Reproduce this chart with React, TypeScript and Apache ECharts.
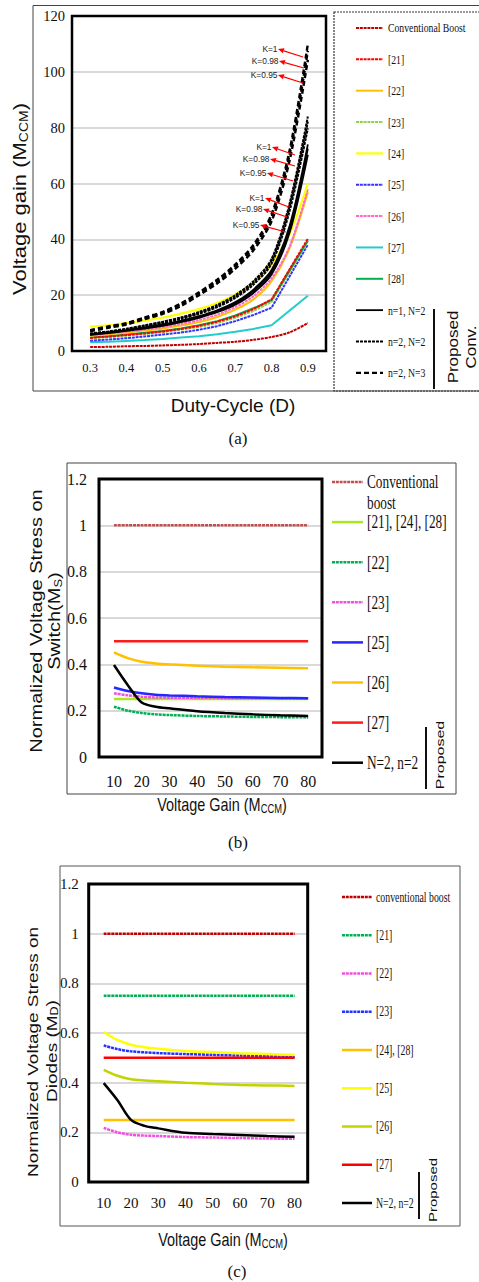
import React, { useEffect, useRef } from "react";
import * as echarts from "echarts";

// ---------------- Panel (a): Voltage gain vs duty cycle ----------------
const dutyTicks = [0.3, 0.4, 0.5, 0.6, 0.7, 0.8, 0.9];
const dutyFull = [0.3, 0.35, 0.4, 0.45, 0.5, 0.55, 0.6, 0.65, 0.7, 0.75, 0.8, 0.85, 0.9];
const dutyKink = [0.3, 0.35, 0.4, 0.45, 0.5, 0.55, 0.6, 0.65, 0.7, 0.75, 0.8, 0.9];

const convBoostGain = [1.4, 1.5, 1.7, 1.8, 2.0, 2.2, 2.5, 2.9, 3.3, 4.0, 5.0, 6.7, 10.0];
const ref21Gain = [4.7, 5.2, 5.7, 6.3, 7.0, 7.9, 9.0, 10.5, 12.4, 15.0, 18.5, 40.2];
const ref22Gain = [5.5, 6.0, 6.6, 7.3, 8.1, 9.1, 10.4, 12.2, 14.8, 18.5, 25.0, 37.0, 57.0];
const ref23Gain = [4.5, 5.0, 5.5, 6.1, 6.8, 7.6, 8.6, 10.0, 11.9, 14.3, 17.6, 39.3];
const ref24Gain = [8.7, 9.2, 10.0, 10.9, 12.0, 13.4, 15.0, 17.2, 20.2, 24.5, 31.0, 42.0, 60.0];
const ref25Gain = [3.7, 4.1, 4.6, 5.2, 5.9, 6.6, 7.6, 8.9, 10.7, 12.9, 15.5, 38.1];
const ref26Gain = [5.8, 6.3, 7.0, 7.7, 8.6, 9.7, 11.1, 13.0, 15.7, 19.6, 26.0, 37.5, 58.0];
const ref27Gain = [3.1, 3.3, 3.6, 3.9, 4.3, 4.8, 5.3, 6.0, 6.9, 7.9, 9.2, 19.8];
const ref28Gain = [4.8, 5.3, 5.9, 6.5, 7.2, 8.1, 9.2, 10.7, 12.7, 15.3, 18.2, 39.6];

// Proposed n=1, N=2 (K = 1, 0.98, 0.95)
const n1N2K100 = [6.0, 6.7, 7.5, 8.4, 9.5, 10.8, 12.5, 14.6, 17.5, 22.0, 29.0, 45.0, 74.0];
const n1N2K098 = [5.9, 6.6, 7.4, 8.3, 9.3, 10.6, 12.2, 14.3, 17.1, 21.5, 28.3, 44.0, 72.5];
const n1N2K095 = [5.8, 6.4, 7.2, 8.0, 9.0, 10.3, 11.9, 13.9, 16.6, 20.8, 27.4, 42.5, 70.3];
// Proposed n=2, N=2
const n2N2K100 = [6.3, 7.0, 8.0, 9.2, 10.5, 12.0, 14.0, 16.5, 20.0, 25.0, 33.0, 53.0, 84.0];
const n2N2K098 = [6.2, 6.9, 7.8, 9.0, 10.3, 11.8, 13.7, 16.2, 19.6, 24.5, 32.3, 52.0, 82.2];
const n2N2K095 = [6.0, 6.7, 7.6, 8.7, 10.0, 11.4, 13.3, 15.7, 19.0, 23.8, 31.3, 50.3, 79.8];
// Proposed n=2, N=3
const n2N3K100 = [7.5, 8.8, 10.0, 12.0, 14.0, 17.0, 21.0, 25.5, 31.0, 38.0, 49.0, 72.0, 110.0];
const n2N3K098 = [7.3, 8.6, 9.8, 11.8, 13.7, 16.7, 20.6, 25.0, 30.4, 37.2, 48.0, 70.5, 107.5];
const n2N3K095 = [7.1, 8.3, 9.5, 11.4, 13.3, 16.1, 20.0, 24.2, 29.5, 36.1, 46.5, 68.4, 104.3];

const legendNamesA = [
  "Conventional Boost", "[21]", "[22]", "[23]", "[24]", "[25]", "[26]", "[27]", "[28]",
  "n=1, N=2", "n=2, N=2", "n=2, N=3",
];
const kLabels = ["K=1", "K=0.98", "K=0.95", "K=1", "K=0.98", "K=0.95", "K=1", "K=0.98", "K=0.95"];

// ---------------- Panels (b), (c): stress vs voltage gain ----------------
const gainPoints = [10, 15, 20, 25, 30, 40, 50, 60, 70, 80];
const gainTicks = [10, 20, 30, 40, 50, 60, 70, 80];

// (b) switch stress
const swConv = [1, 1, 1, 1, 1, 1, 1, 1, 1, 1];
const sw21_24_28 = [0.25, 0.25, 0.25, 0.25, 0.25, 0.25, 0.25, 0.25, 0.25, 0.25];
const sw22 = [0.217, 0.2, 0.19, 0.184, 0.181, 0.177, 0.175, 0.173, 0.172, 0.171];
const sw23 = [0.275, 0.266, 0.26, 0.257, 0.256, 0.255, 0.254, 0.254, 0.253, 0.253];
const sw25 = [0.3, 0.285, 0.275, 0.269, 0.266, 0.262, 0.259, 0.257, 0.255, 0.254];
const sw26 = [0.452, 0.427, 0.411, 0.404, 0.4, 0.394, 0.39, 0.387, 0.385, 0.383];
const sw27 = [0.5, 0.5, 0.5, 0.5, 0.5, 0.5, 0.5, 0.5, 0.5, 0.5];
const swProposed = [0.397, 0.31, 0.235, 0.217, 0.21, 0.198, 0.19, 0.184, 0.18, 0.177];
const legendNamesB = ["Conventional\nboost", "[21], [24], [28]", "[22]", "[23]", "[25]", "[26]", "[27]", "N=2, n=2"];

// (c) diode stress
const dConv = [1, 1, 1, 1, 1, 1, 1, 1, 1, 1];
const d21 = [0.75, 0.75, 0.75, 0.75, 0.75, 0.75, 0.75, 0.75, 0.75, 0.75];
const d22 = [0.218, 0.2, 0.19, 0.187, 0.185, 0.181, 0.179, 0.177, 0.175, 0.174];
const d23 = [0.55, 0.535, 0.526, 0.522, 0.519, 0.515, 0.512, 0.509, 0.506, 0.503];
const d24_28 = [0.25, 0.25, 0.25, 0.25, 0.25, 0.25, 0.25, 0.25, 0.25, 0.25];
const d25 = [0.604, 0.572, 0.553, 0.543, 0.537, 0.528, 0.523, 0.518, 0.515, 0.512];
const d26 = [0.452, 0.428, 0.414, 0.409, 0.406, 0.4, 0.395, 0.391, 0.389, 0.387];
const d27 = [0.5, 0.5, 0.5, 0.5, 0.5, 0.5, 0.5, 0.5, 0.5, 0.5];
const dProposed = [0.398, 0.33, 0.25, 0.226, 0.216, 0.198, 0.193, 0.189, 0.185, 0.182];
const legendNamesC = ["conventional boost", "[21]", "[22]", "[23]", "[24], [28]", "[25]", "[26]", "[27]", "N=2, n=2"];

// ---------------- styles & layout ----------------
const SERIF = "'Liberation Serif', 'Times New Roman', serif";
const SANS = "'Liberation Sans', Arial, sans-serif";
const DOT: any = [3, 0.8];

const styleA = [
  { color: "#C00000", width: 2, dash: DOT },
  { color: "#FF0000", width: 2, dash: DOT },
  { color: "#FFC000", width: 2, dash: "solid" },
  { color: "#92D050", width: 2, dash: DOT },
  { color: "#FFFF00", width: 2.2, dash: "solid" },
  { color: "#3333FF", width: 2, dash: DOT },
  { color: "#FF66CC", width: 2, dash: DOT },
  { color: "#22CCCC", width: 2, dash: "solid" },
  { color: "#00B050", width: 2, dash: "solid" },
  { color: "#000000", width: 1.8, dash: "solid" },
  { color: "#000000", width: 2, dash: [3, 1] },
  { color: "#000000", width: 2.4, dash: [5, 3] },
];
const styleB = [
  { color: "#C0504D", width: 2.5, dash: DOT },
  { color: "#A9E81C", width: 2.5, dash: "solid" },
  { color: "#00B050", width: 2.5, dash: DOT },
  { color: "#F050E0", width: 2.5, dash: DOT },
  { color: "#2626FF", width: 2.5, dash: "solid" },
  { color: "#FFC000", width: 2.5, dash: "solid" },
  { color: "#FF1A1A", width: 2.5, dash: "solid" },
  { color: "#000000", width: 2.5, dash: "solid" },
];
const styleC = [
  { color: "#C00000", width: 2.5, dash: DOT },
  { color: "#00B050", width: 2.5, dash: DOT },
  { color: "#F050E0", width: 2.5, dash: DOT },
  { color: "#2233FF", width: 2.5, dash: DOT },
  { color: "#FFC000", width: 2.5, dash: "solid" },
  { color: "#FFFF00", width: 2.5, dash: "solid" },
  { color: "#C2D400", width: 2.5, dash: "solid" },
  { color: "#FF0000", width: 2.5, dash: "solid" },
  { color: "#000000", width: 2.5, dash: "solid" },
];

const GA = { left: 72, top: 16, width: 254, height: 335 };
const GB = { left: 99, top: 479, width: 223, height: 278 };
const GC = { left: 88.7, top: 884, width: 219, height: 298 };

function lineSeries(name: string, xs: number[], ys: number[], st: any, axis: number, smooth: any, z = 2) {
  return {
    type: "line",
    name,
    xAxisIndex: axis,
    yAxisIndex: axis,
    data: xs.map((x, i) => [x, ys[i]]),
    showSymbol: false,
    symbol: "none",
    smooth,
    silent: true,
    z,
    lineStyle: { color: st.color, width: st.width, type: st.dash },
    itemStyle: { color: st.color },
  };
}

function txt(text: string, x: number, y: number, o: any = {}) {
  return {
    type: "text",
    x,
    y,
    rotation: o.rot || 0,
    scaleX: o.sx || 1,
    scaleY: o.sy || 1,
    z: 60,
    silent: true,
    style: {
      text,
      fill: o.color || "#111",
      fontSize: o.size || 14,
      fontFamily: o.family || SERIF,
      align: o.align || "left",
      textAlign: o.align || "left",
      verticalAlign: o.va || "middle",
      textVerticalAlign: o.va || "middle",
      lineHeight: o.lh,
      rich: o.rich,
    },
  };
}

function rect(x: number, y: number, w: number, h: number, stroke: string, lw: number, dash?: any) {
  return {
    type: "rect",
    z: 55,
    silent: true,
    shape: { x, y, width: w, height: h },
    style: { fill: "none", stroke, lineWidth: lw, lineDash: dash },
  };
}

function seg(x1: number, y1: number, x2: number, y2: number, stroke: string, lw: number, dash?: any) {
  return {
    type: "line",
    z: 56,
    silent: true,
    shape: { x1, y1, x2, y2 },
    style: { stroke, lineWidth: lw, lineDash: dash },
  };
}

function legendBlock(names: string[], styles: any[], x1: number, x2: number, tx: number, y0: number, step: number, font: any) {
  const els: any[] = [];
  names.forEach((n, i) => {
    const y = y0 + i * step;
    const st = styles[i];
    els.push(seg(x1, y, x2, y, st.color, st.width, st.dash === "solid" ? null : st.dash));
    const multi = n.indexOf("\n") >= 0;
    els.push(
      txt(n, tx, multi ? y - font.lh / 2 : y, {
        size: font.size,
        sx: font.sx,
        family: SERIF,
        va: multi ? "top" : "middle",
        lh: font.lh,
      })
    );
  });
  return els;
}

function arrow(hx: number, hy: number, tx: number, ty: number) {
  const dx = hx - tx;
  const dy = hy - ty;
  const len = Math.sqrt(dx * dx + dy * dy);
  const ux = dx / len;
  const uy = dy / len;
  const bx = hx - ux * 6;
  const by = hy - uy * 6;
  return [
    seg(tx, ty, bx, by, "#FF0000", 1.2),
    {
      type: "polygon",
      z: 57,
      silent: true,
      shape: { points: [[hx, hy], [bx - uy * 2.6, by + ux * 2.6], [bx + uy * 2.6, by - ux * 2.6]] },
      style: { fill: "#FF0000" },
    },
  ];
}

const kArrowPos = [
  [278, 49, 303, 57], [279, 61, 304, 68], [278, 75, 303, 83],
  [272, 147, 295, 155], [270, 159, 295, 166], [267, 173, 293, 181],
  [265, 198, 289, 207], [263, 209, 287, 217], [260, 225, 286, 232],
];

function buildOption() {
  const S = 0.3;
  const seriesA: any[] = [
    lineSeries(legendNamesA[0], dutyFull, convBoostGain, styleA[0], 0, S),
    lineSeries(legendNamesA[7], dutyKink, ref27Gain, styleA[7], 0, false),
    lineSeries(legendNamesA[5], dutyKink, ref25Gain, styleA[5], 0, false),
    lineSeries(legendNamesA[3], dutyKink, ref23Gain, styleA[3], 0, false),
    lineSeries(legendNamesA[8], dutyKink, ref28Gain, styleA[8], 0, false),
    lineSeries(legendNamesA[1], dutyKink, ref21Gain, styleA[1], 0, false),
    lineSeries(legendNamesA[2], dutyFull, ref22Gain, styleA[2], 0, S),
    lineSeries(legendNamesA[6], dutyFull, ref26Gain, styleA[6], 0, S),
    lineSeries(legendNamesA[4], dutyFull, ref24Gain, styleA[4], 0, S),
    lineSeries(legendNamesA[9], dutyFull, n1N2K100, styleA[9], 0, S, 3),
    lineSeries(legendNamesA[9], dutyFull, n1N2K098, styleA[9], 0, S, 3),
    lineSeries(legendNamesA[9], dutyFull, n1N2K095, styleA[9], 0, S, 3),
    lineSeries(legendNamesA[10], dutyFull, n2N2K100, styleA[10], 0, S, 3),
    lineSeries(legendNamesA[10], dutyFull, n2N2K098, styleA[10], 0, S, 3),
    lineSeries(legendNamesA[10], dutyFull, n2N2K095, styleA[10], 0, S, 3),
    lineSeries(legendNamesA[11], dutyFull, n2N3K100, styleA[11], 0, S, 3),
    lineSeries(legendNamesA[11], dutyFull, n2N3K098, styleA[11], 0, S, 3),
    lineSeries(legendNamesA[11], dutyFull, n2N3K095, styleA[11], 0, S, 3),
  ];
  const dataB = [swConv, sw21_24_28, sw22, sw23, sw25, sw26, sw27, swProposed];
  const seriesB = dataB.map((d, i) => lineSeries(legendNamesB[i].replace("\n", " "), gainPoints, d, styleB[i], 1, S, i === 7 ? 4 : 2));
  const dataC = [dConv, d21, d22, d23, d24_28, d25, d26, d27, dProposed];
  const seriesC = dataC.map((d, i) => lineSeries(legendNamesC[i], gainPoints, d, styleC[i], 2, S, i === 8 ? 4 : 2));

  const yAxisCommon = (min: number, max: number, interval: number, margin: number, size: number) => ({
    type: "value",
    min,
    max,
    interval,
    axisLine: { show: false },
    axisTick: { show: false },
    axisLabel: { margin, fontSize: size, fontFamily: SERIF, color: "#111" },
    splitLine: { show: true, lineStyle: { color: "#D9D9D9", width: 2 } },
  });
  const xAxisCommon = (min: number, max: number, ticks: number[], margin: number, size: number, dec: number) => ({
    type: "value",
    min,
    max,
    axisLine: { show: false },
    axisTick: { show: false },
    splitLine: { show: false },
    axisLabel: {
      customValues: ticks,
      margin,
      fontSize: size,
      fontFamily: SERIF,
      color: "#111",
      formatter: (v: number) => v.toFixed(dec),
    },
  });

  const graphics: any[] = [];
  // frames
  graphics.push(rect(33, 5.5, 460, 385.5, "#444", 1));
  graphics.push(rect(334, 12, 150, 379, "#333", 1.2, [2, 1]));
  graphics.push(rect(GA.left, GA.top, GA.width, GA.height, "#000", 2.5));
  graphics.push(rect(67, 463, 389, 331, "#444", 1));
  graphics.push(rect(GB.left, GB.top, GB.width, GB.height, "#000", 3));
  graphics.push(rect(60, 866, 400, 360, "#555", 1));
  graphics.push(rect(GC.left, GC.top, GC.width, GC.height, "#000", 3));

  // titles (a)
  graphics.push(
    txt("{n|Voltage gain (M}{s|CCM}{n|)}", 20, 199, {
      rot: Math.PI / 2, align: "center", sy: 0.85, family: SANS, size: 22,
      rich: { n: { fontSize: 22, fontFamily: SANS, fill: "#111" }, s: { fontSize: 14, fontFamily: SANS, fill: "#111", verticalAlign: "bottom", padding: [8, 0, 0, 0] } },
    })
  );
  graphics.push(txt("Duty-Cycle (D)", 233, 405, { align: "center", family: SANS, size: 19 }));
  graphics.push(txt("(a)", 238, 438, { align: "center", size: 17 }));

  // titles (b)
  graphics.push(txt("Normalized Voltage Stress on", 37, 621, { rot: Math.PI / 2, align: "center", family: SANS, size: 20, sy: 0.8 }));
  graphics.push(
    txt("{n|Switch(M}{s|S}{n|)}", 55, 621, {
      rot: Math.PI / 2, align: "center", family: SANS, size: 20, sy: 0.8,
      rich: { n: { fontSize: 20, fontFamily: SANS, fill: "#111" }, s: { fontSize: 13, fontFamily: SANS, fill: "#111", verticalAlign: "bottom", padding: [7, 0, 0, 0] } },
    })
  );
  graphics.push(
    txt("{n|Voltage Gain (M}{s|CCM}{n|)}", 222, 805, {
      align: "center", family: SANS, size: 18.5, sx: 0.78,
      rich: { n: { fontSize: 18.5, fontFamily: SANS, fill: "#111" }, s: { fontSize: 12, fontFamily: SANS, fill: "#111", verticalAlign: "bottom", padding: [7, 0, 0, 0] } },
    })
  );
  graphics.push(txt("(b)", 238, 842, { align: "center", size: 17 }));

  // titles (c)
  graphics.push(txt("Normalized Voltage Stress on", 33, 1052, { rot: Math.PI / 2, align: "center", family: SANS, size: 19, sy: 0.8 }));
  graphics.push(
    txt("{n|Diodes (M}{s|D}{n|)}", 52, 1051, {
      rot: Math.PI / 2, align: "center", family: SANS, size: 19, sy: 0.8,
      rich: { n: { fontSize: 19, fontFamily: SANS, fill: "#111" }, s: { fontSize: 12.5, fontFamily: SANS, fill: "#111", verticalAlign: "bottom", padding: [7, 0, 0, 0] } },
    })
  );
  graphics.push(
    txt("{n|Voltage Gain (M}{s|CCM}{n|)}", 223, 1240, {
      align: "center", family: SANS, size: 18.5, sx: 0.78,
      rich: { n: { fontSize: 18.5, fontFamily: SANS, fill: "#111" }, s: { fontSize: 12, fontFamily: SANS, fill: "#111", verticalAlign: "bottom", padding: [7, 0, 0, 0] } },
    })
  );
  graphics.push(txt("(c)", 237, 1271, { align: "center", size: 17 }));

  // legends
  graphics.push(...legendBlock(legendNamesA, styleA, 356, 383, 388, 28, 31.35, { size: 12.5, sx: 0.78, lh: 14 }));
  graphics.push(...legendBlock(legendNamesB, styleB, 332, 363, 367, 482, 40.1, { size: 19, sx: 0.7, lh: 21 }));
  graphics.push(...legendBlock(legendNamesC, styleC, 342, 372, 376, 897, 38.25, { size: 14, sx: 0.7, lh: 16 }));

  // "Proposed" brackets
  graphics.push(seg(434, 309, 434, 389, "#111", 2));
  graphics.push(txt("Proposed", 453, 347, { rot: Math.PI / 2, align: "center", family: SANS, size: 17, sy: 0.85 }));
  graphics.push(txt("Conv.", 471, 347, { rot: Math.PI / 2, align: "center", family: SANS, size: 17, sy: 0.85 }));
  graphics.push(seg(426, 727, 426, 789, "#111", 2));
  graphics.push(txt("Proposed", 440, 755, { rot: Math.PI / 2, align: "center", family: SANS, size: 16, sy: 0.72 }));
  graphics.push(seg(419, 1172, 419, 1219, "#111", 2));
  graphics.push(txt("Proposed", 433, 1190, { rot: Math.PI / 2, align: "center", family: SANS, size: 15, sy: 0.75 }));

  // K annotations
  kArrowPos.forEach((p, i) => {
    graphics.push(...arrow(p[0], p[1], p[2], p[3]));
    graphics.push(txt(kLabels[i], p[0] - 0.5, p[1], { align: "right", family: SANS, size: 9.5, sx: 0.88, color: "#222" }));
  });

  return {
    animation: false,
    backgroundColor: "#ffffff",
    grid: [
      { ...GA, containLabel: false },
      { ...GB, containLabel: false },
      { ...GC, containLabel: false },
    ],
    xAxis: [
      { ...xAxisCommon(0.25, 0.95, dutyTicks, 10, 12.5, 1), gridIndex: 0 },
      { ...xAxisCommon(4.6, 85, gainTicks, 16, 16, 0), gridIndex: 1 },
      { ...xAxisCommon(4.5, 84.8, gainTicks, 13, 15, 0), gridIndex: 2 },
    ],
    yAxis: [
      { ...yAxisCommon(0, 120, 20, 7, 14.5), gridIndex: 0 },
      { ...yAxisCommon(0, 1.2, 0.2, 12, 16), gridIndex: 1 },
      { ...yAxisCommon(0, 1.2, 0.2, 10, 15), gridIndex: 2 },
    ],
    series: [...seriesA, ...seriesB, ...seriesC],
    graphic: { elements: graphics },
  };
}

export default function App() {
  const ref = useRef<HTMLDivElement>(null);
  useEffect(() => {
    if (!ref.current) return;
    const chart = echarts.init(ref.current, null, { renderer: "svg" });
    chart.setOption(buildOption() as any);
    return () => chart.dispose();
  }, []);
  return (
    <div
      ref={ref}
      style={{ position: "absolute", left: 0, top: 0, width: 479, height: 1282, background: "#fff" }}
    />
  );
}
